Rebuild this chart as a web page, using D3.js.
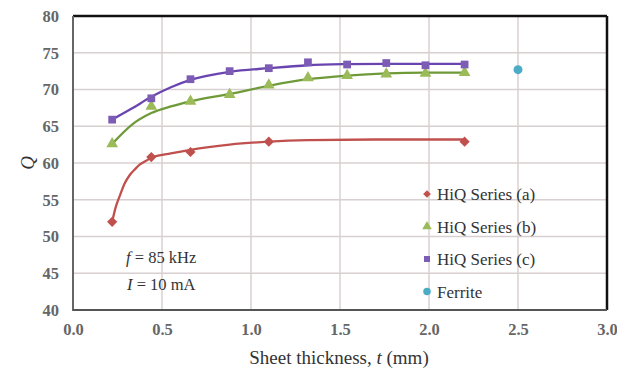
<!DOCTYPE html>
<html><head><meta charset="utf-8">
<script src="https://cdn.jsdelivr.net/npm/d3@7"></script>
<style>body{margin:0;background:#fff}</style>
</head><body><svg id="c" width="617" height="370"></svg>
<script>
// Data
const xA = [0.22, 0.44, 0.66, 1.1, 2.2];
const yA = [52.0, 60.8, 61.5, 62.9, 62.9];
const xBC = [0.22, 0.44, 0.66, 0.88, 1.1, 1.32, 1.54, 1.76, 1.98, 2.2];
const yB = [62.6, 67.7, 68.4, 69.3, 70.6, 71.6, 71.9, 72.1, 72.2, 72.3];
const yC = [65.9, 68.8, 71.4, 72.5, 72.9, 73.7, 73.4, 73.6, 73.3, 73.4];
const xF = [2.5];
const yF = [72.7];
// Trend curves
const trendXA = [0.22, 0.24, 0.264, 0.29, 0.32, 0.35, 0.376, 0.41, 0.44, 0.55, 0.66, 0.88, 1.1, 1.32, 1.76, 2.2];
const trendA  = [52.0, 54.0, 55.6, 57.2, 58.4, 59.2, 59.8, 60.3, 60.7, 61.3, 61.8, 62.5, 62.9, 63.1, 63.2, 63.2];
const trendX  = [0.22, 0.33, 0.44, 0.55, 0.66, 0.88, 1.1, 1.32, 1.54, 1.76, 1.98, 2.2];
const trendB  = [62.6, 65.2, 66.8, 67.7, 68.4, 69.4, 70.5, 71.4, 71.9, 72.2, 72.3, 72.3];
const trendC  = [65.9, 67.4, 69.0, 70.3, 71.3, 72.4, 72.9, 73.3, 73.45, 73.5, 73.5, 73.5];
const xTicks = [0, 0.5, 1, 1.5, 2, 2.5, 3];
const yTicks = [40, 45, 50, 55, 60, 65, 70, 75, 80];
const legendNames = ["HiQ Series (a)", "HiQ Series (b)", "HiQ Series (c)", "Ferrite"];

const svg = d3.select("#c");
const L = 73, R = 607, T = 16, B = 310;
const x = d3.scaleLinear().domain([0, 3]).range([L, R]);
const y = d3.scaleLinear().domain([40, 80]).range([B, T]);
const font = "'Liberation Serif', 'DejaVu Serif', serif";

const cRed = "#c0504d", cGreen = "#9bbb59", cGreenL = "#6f9a3a", cPur = "#7d5cb5", cPurL = "#6a45b0", cTeal = "#4bacc6";

// grid
const g = svg.append("g");
g.selectAll("line.v").data(xTicks.slice(1, -1)).join("line")
  .attr("x1", d => x(d)).attr("x2", d => x(d)).attr("y1", T).attr("y2", B)
  .attr("stroke", "#d8d0d0").attr("stroke-width", 1.5);
g.selectAll("line.h").data(yTicks.slice(1, -1)).join("line")
  .attr("y1", d => y(d)).attr("y2", d => y(d)).attr("x1", L).attr("x2", R)
  .attr("stroke", "#d8d0d0").attr("stroke-width", 1.5);

// border
svg.append("line").attr("x1", L).attr("x2", R).attr("y1", T).attr("y2", T).attr("stroke", "#111").attr("stroke-width", 2.5);
svg.append("line").attr("x1", R).attr("x2", R).attr("y1", T).attr("y2", B).attr("stroke", "#111").attr("stroke-width", 2.5);
svg.append("line").attr("x1", L).attr("x2", L).attr("y1", T).attr("y2", B + 1).attr("stroke", "#666").attr("stroke-width", 2);
svg.append("line").attr("x1", L).attr("x2", R).attr("y1", B).attr("y2", B).attr("stroke", "#555").attr("stroke-width", 2);

// axes tick labels via d3 axes
const xa = svg.append("g").attr("transform", `translate(0,${B})`)
  .call(d3.axisBottom(x).tickValues(xTicks).tickFormat(d3.format(".1f")).tickSize(0).tickPadding(13));
xa.select(".domain").remove();
xa.selectAll("text").attr("font-family", font).attr("font-size", 16.5).attr("font-weight", "bold").attr("fill", "#666");
const ya = svg.append("g").attr("transform", `translate(${L},0)`)
  .call(d3.axisLeft(y).tickValues(yTicks).tickSize(0).tickPadding(14));
ya.select(".domain").remove();
ya.selectAll("text").attr("font-family", font).attr("font-size", 16.5).attr("font-weight", "bold").attr("fill", "#666");

// axis titles
svg.append("text").attr("x", 339).attr("y", 364).attr("text-anchor", "middle")
  .attr("font-family", font).attr("font-size", 19).attr("fill", "#333")
  .html('Sheet thickness, <tspan font-style="italic">t</tspan> (mm)');
svg.append("text").attr("transform", "translate(34,163) rotate(-90)").attr("text-anchor", "middle")
  .attr("font-family", font).attr("font-size", 19).attr("font-style", "italic").attr("fill", "#333").text("Q");

// trend lines
const line = (xs) => d3.line().x((d, i) => x(xs[i])).y(d => y(d)).curve(d3.curveMonotoneX);
svg.append("path").attr("d", line(trendXA)(trendA)).attr("fill", "none").attr("stroke", cRed).attr("stroke-width", 2.3);
svg.append("path").attr("d", line(trendX)(trendB)).attr("fill", "none").attr("stroke", cGreenL).attr("stroke-width", 2.3);
svg.append("path").attr("d", line(trendX)(trendC)).attr("fill", "none").attr("stroke", cPurL).attr("stroke-width", 2.3);

// markers
const sym = (type, size) => d3.symbol().type(type).size(size)();
svg.append("g").selectAll("path").data(yA).join("path")
  .attr("transform", (d, i) => `translate(${x(xA[i])},${y(d)}) rotate(45)`).attr("d", sym(d3.symbolSquare, 52)).attr("fill", cRed);
svg.append("g").selectAll("path").data(yB).join("path")
  .attr("transform", (d, i) => `translate(${x(xBC[i])},${y(d)})`).attr("d", sym(d3.symbolTriangle, 60)).attr("fill", cGreen);
svg.append("g").selectAll("path").data(yC).join("path")
  .attr("transform", (d, i) => `translate(${x(xBC[i])},${y(d)})`).attr("d", sym(d3.symbolSquare, 60)).attr("fill", cPur);
svg.append("g").selectAll("circle").data(yF).join("circle")
  .attr("cx", (d, i) => x(xF[i])).attr("cy", d => y(d)).attr("r", 4.5).attr("fill", cTeal);

// legend
const legSyms = [d3.symbolSquare, d3.symbolTriangle, d3.symbolSquare, d3.symbolCircle];
const legCols = [cRed, cGreen, cPur, cTeal];
const legSizes = [30, 40, 36, 45];
const lg = svg.append("g");
legendNames.forEach((n, i) => {
  const yy = 194 + i * 32.5;
  lg.append("path").attr("transform", `translate(427,${yy})${i === 0 ? " rotate(45)" : ""}`).attr("d", sym(legSyms[i], legSizes[i])).attr("fill", legCols[i]);
  lg.append("text").attr("x", 437).attr("y", yy + 6).attr("font-family", font).attr("font-size", 17).attr("fill", "#333").text(n);
});

// annotations
svg.append("text").attr("x", 126).attr("y", 263).attr("font-family", font).attr("font-size", 16.5).attr("fill", "#333")
  .html('<tspan font-style="italic">f</tspan> = 85 kHz');
svg.append("text").attr("x", 127).attr("y", 290).attr("font-family", font).attr("font-size", 16.5).attr("fill", "#333")
  .html('<tspan font-style="italic">I</tspan> = 10 mA');
</script></body></html>
